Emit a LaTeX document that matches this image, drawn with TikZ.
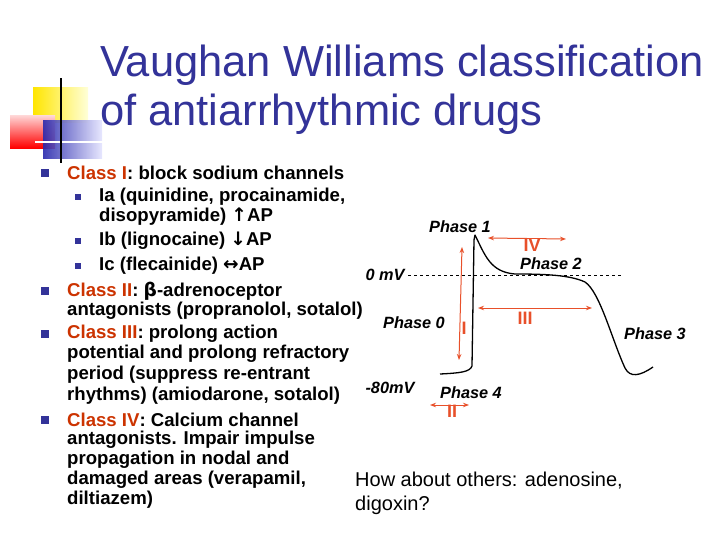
\documentclass[tikz,border=0pt]{standalone}
\usepackage{fontspec}
\setmainfont{Liberation Sans}
\usetikzlibrary{arrows.meta}
\definecolor{tblue}{HTML}{333399}
\definecolor{cred}{HTML}{CC3300}
\definecolor{ared}{HTML}{E8502A}
\begin{document}
\begin{tikzpicture}[x=1pt,y=-1pt,
  body/.style={anchor=west,inner sep=0,font=\fontsize{18.6}{19}\selectfont\bfseries},
  bul/.style={fill=tblue,minimum size=7.5pt,inner sep=0},
  lab/.style={inner sep=0,font=\fontsize{16.3}{17}\selectfont\bfseries\itshape},
  rn/.style={inner sep=0,text=ared,font=\fontsize{18}{18}\selectfont\bfseries},
  arr/.style={ared,line width=1pt,{Stealth[length=6pt]}-{Stealth[length=6pt]}}]
\useasboundingbox (0,0) rectangle (728,546);
\fill[white] (0,0) rectangle (728,546);
% logo
\shade[left color=yellow!80!orange, right color=yellow!15] (33,87) rectangle (88,122);
\shade[shading angle=45, top color=red!15, bottom color=red] (10,115) rectangle (55,148);
\shade[left color=tblue!80!blue, right color=blue!10,opacity=0.9] (43,120) rectangle (102,158);
\draw[white,line width=1.2pt] (35,142) -- (115,142);
\draw[black,line width=1.5pt] (61,78) -- (61,163);
% title
\node[anchor=west,inner sep=0,text=tblue,font=\fontsize{43.5}{44}\selectfont] (t1) at (100,65) {Vaughan Williams classification};
\node[anchor=west,inner sep=0,text=tblue,font=\fontsize{43.5}{44}\selectfont] (t2) at (100,114) {of antiarrhythmic drugs};
% bullets
\foreach \n/\y in {b1/173,b2/291,b3/334,b4/420} \node[bul] (\n) at (45,\y) {};
\foreach \n/\y in {s1/197,s2/241,s3/266} \node[bul,minimum size=6.5pt] (\n) at (78,\y) {};
\node[body] (l1) at (67,173) {\textcolor{cred}{Class I}: block sodium channels};
\node[body] (l2) at (99,197) {Ia (quinidine, procainamide,};
\node[body] (l3) at (99,217) {disopyramide) {\fontspec{DejaVu Sans}↑}AP};
\node[body] (l4) at (99,241) {Ib (lignocaine) {\fontspec{DejaVu Sans}↓}AP};
\node[body] (l5) at (99,266) {Ic (flecainide) {\fontspec{DejaVu Sans}↔}AP};
\node[body] (l6) at (67,291) {\textcolor{cred}{Class II}: {\fontspec{DejaVu Sans}β}-adrenoceptor};
\node[body] (l7) at (67,311) {antagonists (propranolol, sotalol)};
\node[body] (l8) at (67,334) {\textcolor{cred}{Class III}: prolong action};
\node[body] (l9) at (67,354) {potential and prolong refractory};
\node[body] (l10) at (67,375) {period (suppress re-entrant};
\node[body] (l11) at (67,396) {rhythms) (amiodarone, sotalol)};
\node[body] (l12) at (67,420) {\textcolor{cred}{Class IV}: Calcium channel};
\node[body] (l13) at (67,440) {antagonists. Impair impulse};
\node[body] (l14) at (67,460) {propagation in nodal and};
\node[body] (l15) at (67,480) {damaged areas (verapamil,};
\node[body] (l16) at (67,500) {diltiazem)};
\node[anchor=west,inner sep=0,font=\fontsize{20}{20}\selectfont] (q1) at (355,481) {How about others: adenosine,};
\node[anchor=west,inner sep=0,font=\fontsize{20}{20}\selectfont] (q2) at (355,505) {digoxin?};
% action potential
\draw[dashed,line width=0.5pt] (408,275) -- (622,275);
\draw[line width=1.3pt,line join=round] (440,374) .. controls (460,373) and (470,372) .. (472,366)
  -- (474,240) -- (475,235) .. controls (485,255) and (490,272) .. (515,274)
  .. controls (545,274) and (570,275) .. (585,282)
  .. controls (600,292) and (612,340) .. (625,368)
  .. controls (630,378) and (640,376) .. (653,367);
\node[lab] (p1) at (460,227) {Phase 1};
\node[lab] (p2) at (551,264) {Phase 2};
\node[lab] (p0) at (414,323) {Phase 0};
\node[lab] (p3) at (655,334) {Phase 3};
\node[lab] (p4) at (471,393) {Phase 4};
\node[lab] (z) at (385,275) {0 mV};
\node[lab] (m) at (390,388) {-80mV};
\coordinate (aI1) at (462,247); \coordinate (aI2) at (459,360);
\coordinate (a41) at (488,238); \coordinate (a42) at (566,239);
\coordinate (a31) at (478,308); \coordinate (a32) at (592,308);
\coordinate (a21) at (430,405); \coordinate (a22) at (469,405);
\draw[arr] (aI1) -- (aI2);
\draw[arr] (a41) -- (a42);
\draw[arr] (a31) -- (a32);
\draw[arr] (a21) -- (a22);
\node[rn,fill=white,inner xsep=1pt] (rI) at (464,328) {I};
\node[rn,fill=white,inner xsep=1pt] (rIV) at (532,245) {IV};
\node[rn] (rIII) at (525,318) {III};
\node[rn] (rII) at (452,411) {II};
\end{tikzpicture}
\end{document}
